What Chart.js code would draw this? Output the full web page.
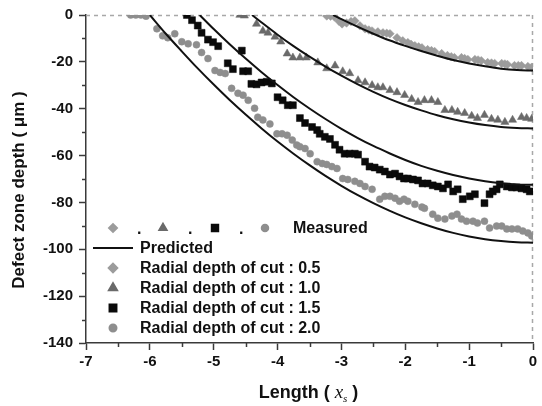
<!DOCTYPE html>
<html><head><meta charset="utf-8">
<script src="https://cdn.jsdelivr.net/npm/chart.js@4/dist/chart.umd.min.js"></script>
<style>html,body{margin:0;padding:0;background:#fff}#wrap{width:542px;height:406px;position:relative}</style>
</head><body><div id="wrap"><canvas id="c" width="542" height="406" style="width:542px;height:406px"></canvas></div>
<script>
// ---- tick labels ----
const xTicks = [-7,-6,-5,-4,-3,-2,-1,0];
const yTicks = [0,-20,-40,-60,-80,-100,-120,-140];
const xMinorTicks = [-6.5,-5.5,-4.5,-3.5,-2.5,-1.5,-0.5];
const yMinorTicks = [-10,-30,-50,-70,-90,-110,-130];

// ---- titles and legend labels ----
const yTitle = 'Defect zone depth ( μm )';
const xTitleParts = ['Length ( ', 'x', 's', ' )'];
const seriesLabels = ['Radial depth of cut : 0.5','Radial depth of cut : 1.0','Radial depth of cut : 1.5','Radial depth of cut : 2.0'];
const measuredLabel = 'Measured';
const predictedLabel = 'Predicted';

// ---- predicted curves ----
const pred05X = [-3.13,-3.0,-2.75,-2.5,-2.25,-2.0,-1.75,-1.5,-1.25,-1.0,-0.75,-0.5,-0.25,0];
const pred05Y = [0,-1.8,-5.0,-8.0,-10.8,-13.2,-15.4,-17.4,-19.2,-20.7,-21.9,-22.9,-23.5,-23.7];
const pred10X = [-4.4,-4.25,-4.0,-3.75,-3.5,-3.25,-3.0,-2.75,-2.5,-2.25,-2.0,-1.75,-1.5,-1.25,-1.0,-0.75,-0.5,-0.25,0];
const pred10Y = [0,-3.2,-8.4,-13.3,-17.8,-22.0,-25.9,-29.5,-32.8,-35.8,-38.4,-40.7,-42.8,-44.5,-45.9,-47.0,-47.8,-48.2,-48.4];
const pred15X = [-5.22,-5.0,-4.75,-4.5,-4.25,-4.0,-3.75,-3.5,-3.25,-3.0,-2.75,-2.5,-2.25,-2.0,-1.75,-1.5,-1.25,-1.0,-0.75,-0.5,-0.25,0];
const pred15Y = [0,-6.0,-12.5,-18.6,-24.4,-29.9,-35.1,-39.9,-44.4,-48.6,-52.4,-55.9,-59.0,-61.9,-64.4,-66.5,-68.3,-69.8,-71.0,-71.8,-72.3,-72.5];
const pred20X = [-6.0,-5.75,-5.5,-5.25,-5.0,-4.75,-4.5,-4.25,-4.0,-3.75,-3.5,-3.25,-3.0,-2.75,-2.5,-2.25,-2.0,-1.75,-1.5,-1.25,-1.0,-0.75,-0.5,-0.25,0];
const pred20Y = [0,-8.0,-15.5,-22.8,-29.7,-36.3,-42.5,-48.4,-54.0,-59.2,-64.1,-68.7,-72.9,-76.8,-80.3,-83.5,-86.4,-88.9,-91.1,-93.0,-94.5,-95.7,-96.5,-97.0,-97.2];

// ---- measured: radial depth 0.5 (diamonds) ----
const m05X = [-3.23,-3.17,-3.11,-3.04,-2.99,-2.92,-2.85,-2.79,-2.71,-2.63,-2.57,-2.52,-2.43,-2.35,-2.29,-2.24,-2.13,-2.04,-1.96,-1.91,-1.85,-1.79,-1.74,-1.65,-1.59,-1.54,-1.43,-1.34,-1.28,-1.23,-1.12,-1.07,-1.02,-0.91,-0.86,-0.81,-0.71,-0.65,-0.60,-0.49,-0.44,-0.40,-0.29,-0.23,-0.18,-0.08,-0.02];
const m05Y = [-0.4,-0.5,-0.8,-2.6,-3.8,-3.4,-2.8,-2.5,-4.6,-5.9,-6.4,-6.8,-7.2,-7.6,-7.8,-8.0,-9.7,-11.0,-11.8,-12.5,-13.1,-13.6,-14.0,-14.8,-15.2,-15.6,-16.5,-17.3,-17.8,-18.2,-18.2,-18.6,-19.0,-19.0,-19.2,-19.5,-20.3,-20.5,-20.7,-20.7,-20.9,-21.1,-21.6,-21.6,-21.6,-22.0,-22.3];

// ---- measured: radial depth 1.0 (triangles) ----
const m10X = [-4.59,-4.52,-4.33,-4.23,-4.15,-4.04,-3.95,-3.85,-3.76,-3.65,-3.55,-3.37,-3.23,-3.10,-2.98,-2.87,-2.74,-2.63,-2.52,-2.43,-2.35,-2.24,-2.13,-2.01,-1.90,-1.80,-1.70,-1.59,-1.49,-1.38,-1.27,-1.18,-1.07,-0.96,-0.87,-0.76,-0.65,-0.55,-0.44,-0.32,-0.18,-0.10,-0.02];
const m10Y = [0,-0.3,-3.8,-6.8,-7.6,-9.3,-11.4,-16.5,-18.2,-18.2,-18.2,-20.3,-22.8,-21.6,-24.1,-24.9,-27.9,-28.8,-30.0,-30.9,-30.9,-32.1,-33.0,-34.2,-35.9,-37.2,-36.4,-36.4,-37.2,-40.6,-40.6,-41.4,-41.9,-43.1,-44.0,-42.7,-44.4,-44.8,-45.7,-44.8,-43.6,-44.0,-44.4];

// ---- measured: radial depth 1.5 (squares) ----
const m15X = [-5.42,-5.34,-5.25,-5.19,-5.09,-5.01,-4.93,-4.78,-4.70,-4.56,-4.54,-4.46,-4.41,-4.33,-4.25,-4.17,-4.09,-4.00,-3.92,-3.84,-3.76,-3.65,-3.57,-3.46,-3.38,-3.34,-3.26,-3.18,-3.10,-3.03,-2.95,-2.87,-2.79,-2.74,-2.63,-2.56,-2.48,-2.40,-2.32,-2.24,-2.16,-2.09,-2.02,-1.96,-1.88,-1.80,-1.73,-1.65,-1.57,-1.49,-1.41,-1.33,-1.25,-1.18,-1.10,-0.99,-0.91,-0.76,-0.68,-0.63,-0.57,-0.52,-0.41,-0.33,-0.26,-0.18,-0.10,-0.05];
const m15Y = [0,-2.2,-4.5,-7.6,-10.5,-11.6,-13.3,-20.6,-23.1,-15.2,-24.0,-24.0,-29.4,-29.6,-28.8,-28.5,-29.2,-35.1,-36.4,-38.5,-38.5,-44.0,-46.1,-47.8,-49.1,-50.7,-52.0,-52.9,-55.4,-57.5,-59.2,-59.2,-59.2,-59.6,-62.6,-64.7,-65.1,-66.0,-66.8,-68.1,-67.7,-68.9,-69.8,-69.8,-70.2,-70.6,-71.9,-71.9,-72.7,-73.2,-74.0,-72.3,-75.3,-74.4,-78.6,-77.4,-76.5,-80.3,-76.5,-75.3,-74.4,-72.3,-73.2,-73.6,-73.6,-74.0,-74.4,-75.3];

// ---- measured: radial depth 2.0 (circles) ----
const m20X = [-6.30,-6.22,-6.14,-6.06,-5.89,-5.80,-5.72,-5.61,-5.50,-5.40,-5.27,-5.19,-5.09,-4.98,-4.90,-4.82,-4.72,-4.62,-4.54,-4.46,-4.36,-4.31,-4.23,-4.12,-4.01,-3.93,-3.85,-3.77,-3.70,-3.65,-3.57,-3.49,-3.38,-3.30,-3.23,-3.15,-3.07,-2.98,-2.90,-2.79,-2.71,-2.63,-2.52,-2.40,-2.32,-2.24,-2.16,-2.09,-2.02,-1.96,-1.85,-1.74,-1.70,-1.57,-1.49,-1.38,-1.27,-1.19,-1.12,-1.04,-0.94,-0.87,-0.76,-0.68,-0.57,-0.49,-0.41,-0.33,-0.24,-0.16,-0.08,-0.02];
const m20Y = [0,0,0,-0.5,-5.9,-8.9,-9.7,-8.0,-11.4,-12.3,-12.7,-16.0,-18.6,-23.7,-24.5,-25.0,-31.3,-33.4,-34.2,-36.4,-39.8,-43.6,-44.8,-46.5,-50.7,-50.7,-51.3,-53.4,-55.5,-56.2,-57.0,-59.2,-62.6,-63.4,-63.8,-64.7,-65.5,-69.8,-70.2,-71.0,-71.9,-73.2,-74.4,-78.6,-77.4,-77.4,-78.2,-79.5,-78.6,-79.5,-80.8,-82.0,-82.5,-85.0,-86.7,-87.1,-85.8,-85.0,-87.1,-88.0,-88.0,-88.8,-88.0,-90.9,-90.1,-90.1,-91.3,-91.3,-91.3,-92.2,-93.0,-94.3];

const FONT = '"Liberation Sans", Arial, Helvetica, sans-serif';
const pts = (xs, ys) => xs.map((x, i) => ({x: x, y: ys[i]}));

const markerStyles = [
  {style:'rectRot', color:'#9c9c9c', r:4.3},
  {style:'triangle', color:'#6a6a6a', r:4.7},
  {style:'rect', color:'#0a0a0a', r:4.9},
  {style:'circle', color:'#8e8e8e', r:3.5}
];
const measured = [[m05X,m05Y],[m10X,m10Y],[m15X,m15Y],[m20X,m20Y]];
const predicted = [[pred05X,pred05Y],[pred10X,pred10Y],[pred15X,pred15Y],[pred20X,pred20Y]];

const datasets = [];
predicted.forEach(([xs, ys]) => datasets.push({
  type:'line', label: predictedLabel, data: pts(xs, ys), showLine:true,
  borderColor:'#111', borderWidth:2, pointRadius:0, fill:false,
  cubicInterpolationMode:'monotone', order:0
}));
measured.forEach(([xs, ys], i) => datasets.push({
  type:'scatter', label: seriesLabels[i], data: pts(xs, ys), showLine:false,
  pointStyle: markerStyles[i].style, pointRadius: markerStyles[i].r,
  backgroundColor: markerStyles[i].color, borderColor: markerStyles[i].color,
  borderWidth:0.5, order:1
}));

const axisColor = '#3a3a3a';

const framePlugin = {
  id:'frame',
  beforeDatasetsDraw(chart){
    const ctx = chart.ctx, ca = chart.chartArea;
    ctx.save();
    ctx.strokeStyle = '#a8a8a8'; ctx.lineWidth = 1.5; ctx.setLineDash([4,4]);
    ctx.beginPath(); ctx.moveTo(ca.left, ca.top + 0.5); ctx.lineTo(ca.right, ca.top + 0.5); ctx.stroke();
    ctx.beginPath(); ctx.moveTo(ca.right - 0.5, ca.top); ctx.lineTo(ca.right - 0.5, ca.bottom); ctx.stroke();
    ctx.restore();
  }
};

const decorPlugin = {
  id:'decor',
  afterDraw(chart){
    const ctx = chart.ctx, xs = chart.scales.x, ys = chart.scales.y, ca = chart.chartArea;
    ctx.save();
    // minor ticks
    ctx.strokeStyle = axisColor; ctx.lineWidth = 1.5;
    xMinorTicks.forEach(v => { const p = Math.round(xs.getPixelForValue(v)) + 0.5; ctx.beginPath(); ctx.moveTo(p, ca.bottom); ctx.lineTo(p, ca.bottom + 4); ctx.stroke(); });
    yMinorTicks.forEach(v => { const p = Math.round(ys.getPixelForValue(v)) + 0.5; ctx.beginPath(); ctx.moveTo(ca.left, p); ctx.lineTo(ca.left - 4, p); ctx.stroke(); });

    // y axis title
    ctx.save();
    ctx.translate(19, 190);
    ctx.rotate(-Math.PI / 2);
    ctx.font = 'bold 17px ' + FONT; ctx.fillStyle = '#111';
    ctx.textAlign = 'center'; ctx.textBaseline = 'middle';
    ctx.fillText(yTitle, 0, 0);
    ctx.restore();

    // x axis title with italic x and subscript s
    const cx = (ca.left + ca.right) / 2 - 1, by = 398;
    const fB = 'bold 18px ' + FONT, fI = 'italic 19px "Liberation Serif", "Times New Roman", serif', fS = 'italic 11px "Liberation Serif", serif';
    const fonts = [fB, fI, fS, fB], dy = [0, 0, 4, 0];
    let total = 0;
    xTitleParts.forEach((t, i) => { ctx.font = fonts[i]; total += ctx.measureText(t).width; });
    let xx = cx - total / 2;
    ctx.fillStyle = '#111'; ctx.textBaseline = 'alphabetic'; ctx.textAlign = 'left';
    xTitleParts.forEach((t, i) => { ctx.font = fonts[i]; ctx.fillText(t, xx, by + dy[i]); xx += ctx.measureText(t).width; });

    // legend
    const h = Chart.helpers;
    const mark = (i, x, y) => {
      const m = markerStyles[i];
      ctx.fillStyle = m.color; ctx.strokeStyle = m.color;
      h.drawPoint(ctx, {pointStyle: m.style, radius: m.r, rotation: 0, borderWidth: 0.5}, x, y);
    };
    ctx.font = 'bold 16px ' + FONT; ctx.textBaseline = 'middle';
    const row1 = 228, symX = 113, txtX = 140;
    [113, 163, 215, 265].forEach((x, i) => mark(i, x, row1));
    ctx.fillStyle = '#111';
    [137, 188, 239].forEach(x => ctx.fillText('.', x, row1 + 2));
    ctx.fillText(measuredLabel, 293, row1 + 1);
    ctx.strokeStyle = '#111'; ctx.lineWidth = 2;
    ctx.beginPath(); ctx.moveTo(93, 248); ctx.lineTo(133, 248); ctx.stroke();
    ctx.fillStyle = '#111'; ctx.fillText(predictedLabel, txtX, 248 + 1);
    seriesLabels.forEach((t, i) => {
      const y = 268 + i * 20;
      mark(i, symX, y);
      ctx.fillStyle = '#111'; ctx.fillText(t, txtX, y + 1);
    });
    ctx.restore();
  }
};

new Chart(document.getElementById('c'), {
  type:'scatter',
  data:{datasets},
  options:{
    responsive:false, animation:false, devicePixelRatio:1,
    layout:{padding:{top:12, right:9, left:0, bottom:0}},
    plugins:{legend:{display:false}, tooltip:{enabled:false}},
    scales:{
      x:{type:'linear', position:'bottom', min:-7, max:0,
        afterBuildTicks: s => { s.ticks = xTicks.map(v => ({value:v})); },
        afterFit: s => { s.height = 63; },
        ticks:{color:'#111', font:{family:FONT, size:15, weight:'bold'}, padding:3, maxRotation:0, autoSkip:false},
        grid:{display:true, drawOnChartArea:false, drawTicks:true, tickLength:7, tickColor:axisColor, tickWidth:1.5},
        border:{display:true, color:axisColor, width:1.5}
      },
      y:{type:'linear', position:'left', min:-140, max:0,
        afterBuildTicks: s => { s.ticks = yTicks.map(v => ({value:v})); },
        afterFit: s => { s.width = 86; },
        ticks:{color:'#111', font:{family:FONT, size:15, weight:'bold'}, padding:6, autoSkip:false},
        grid:{display:true, drawOnChartArea:false, drawTicks:true, tickLength:7, tickColor:axisColor, tickWidth:1.5},
        border:{display:true, color:axisColor, width:1.5}
      }
    }
  },
  plugins:[framePlugin, decorPlugin]
});
</script>
</body></html>
